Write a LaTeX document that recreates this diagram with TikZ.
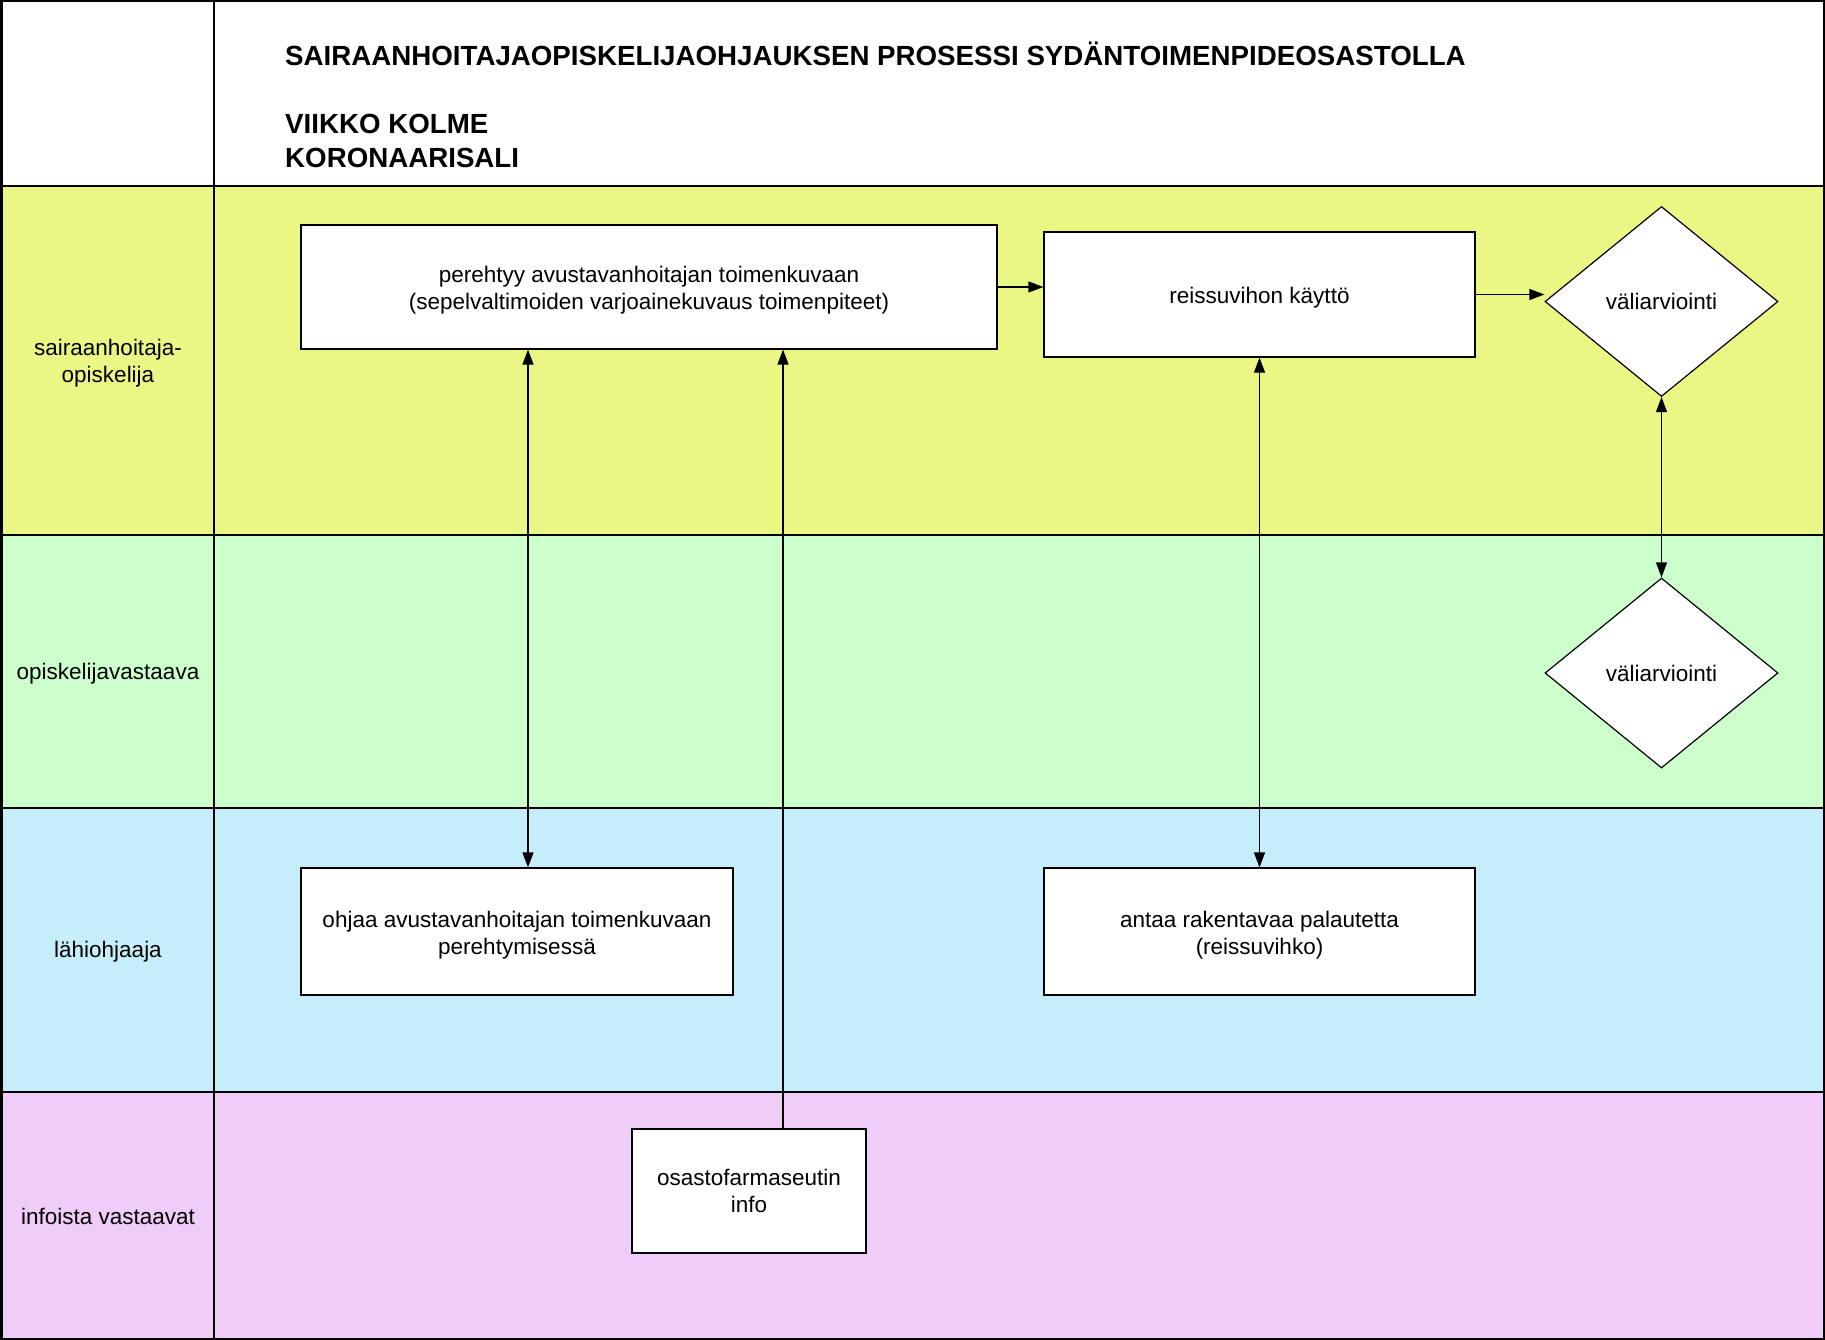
\documentclass[tikz,border=0pt]{standalone}
\usepackage{fontspec}
\setmainfont{Liberation Sans}
\usetikzlibrary{shapes.geometric,arrows.meta}
\definecolor{laneyellow}{HTML}{EAF785}
\definecolor{lanegreen}{HTML}{CCFFCC}
\definecolor{laneblue}{HTML}{C5EEFA}
\definecolor{lanepink}{HTML}{F0CCF8}
\begin{document}
\begin{tikzpicture}[x=1pt,y=-1pt,
  txt/.style={font=\fontsize{22.5}{27}\selectfont,align=center,inner sep=0pt},
  ttl/.style={font=\bfseries\fontsize{27.7}{33}\selectfont,anchor=base west,inner sep=0pt},
  box/.style={txt,draw=black,line width=1.2pt,fill=white},
  lowered/.style={execute at begin node={\rule{0pt}{23.5pt}}},
  loweredtwo/.style={execute at begin node={\rule{0pt}{50.4pt}}},
  dia/.style={txt,diamond,draw=black,line width=1.2pt,fill=white,minimum width=233pt,minimum height=190pt},
  sep/.style={line width=2.8pt,black},
  conn/.style={line width=1.2pt,black},
  tip/.style={-{Triangle[length=15pt,width=11pt]}},
  dtip/.style={{Triangle[length=15pt,width=11pt]}-{Triangle[length=15pt,width=11pt]}}
]
\useasboundingbox (0,0) rectangle (1825,1340);
% lanes
\fill[white] (0,0) rectangle (1825,186);
\fill[laneyellow] (0,186) rectangle (1825,535);
\fill[lanegreen] (0,535) rectangle (1825,808);
\fill[laneblue] (0,808) rectangle (1825,1092);
\fill[lanepink] (0,1092) rectangle (1825,1340);
% separators
\draw[sep] (0,186) -- (1825,186);
\draw[sep] (0,535) -- (1825,535);
\draw[sep] (0,808) -- (1825,808);
\draw[sep] (0,1092) -- (1825,1092);
\draw[line width=2.2pt] (214,0) -- (214,1340);
\draw[line width=2.5pt] (1.25,1.25) rectangle (1823.75,1338.75);
% title
\node[ttl] (t1) at (285,66) {SAIRAANHOITAJAOPISKELIJAOHJAUKSEN PROSESSI SYDÄNTOIMENPIDEOSASTOLLA};
\node[ttl] (t2) at (285,134) {VIIKKO KOLME};
\node[ttl] (t3) at (285,168) {KORONAARISALI};
% lane labels
\node[txt] (l1) at (108,363) {sairaanhoitaja-\\opiskelija};
\node[txt] (l2) at (108,674) {opiskelijavastaava};
\node[txt] (l3) at (108,952) {lähiohjaaja};
\node[txt] (l4) at (108,1216) {infoista vastaavat};
% boxes
\node[box,loweredtwo,minimum width=696pt,minimum height=124pt] (b1) at (649,287) {perehtyy avustavanhoitajan toimenkuvaan\\(sepelvaltimoiden varjoainekuvaus toimenpiteet)};
\node[box,lowered,minimum width=431pt,minimum height=125pt] (b2) at (1259.5,294.5) {reissuvihon käyttö};
\node[dia] (d1) at (1661.5,301.5) {väliarviointi};
\node[dia] (d2) at (1661.5,673) {väliarviointi};
\node[box,loweredtwo,minimum width=432pt,minimum height=127pt] (b3) at (517,931.5) {ohjaa avustavanhoitajan toimenkuvaan\\perehtymisessä};
\node[box,loweredtwo,minimum width=431pt,minimum height=127pt] (b4) at (1259.5,931.5) {antaa rakentavaa palautetta\\(reissuvihko)};
\node[box,minimum width=234pt,minimum height=124pt] (b5) at (749,1191) {osastofarmaseutin\\info};
% connector guides
\coordinate (ax) at (528,0);
\coordinate (bx) at (783,0);
% connectors
\draw[conn,tip] (b1.east) -- (b1.east -| b2.west);
\draw[conn,tip] (b2.east) -- (b2.east -| d1.west);
\draw[conn,dtip] (b1.south -| ax) -- (b3.north -| ax);
\draw[conn,tip] (b5.north -| bx) -- (b1.south -| bx);
\draw[conn,dtip] (b2.south) -- (b4.north);
\draw[conn,dtip] (d1.south) -- (d2.north);
\end{tikzpicture}
\end{document}
